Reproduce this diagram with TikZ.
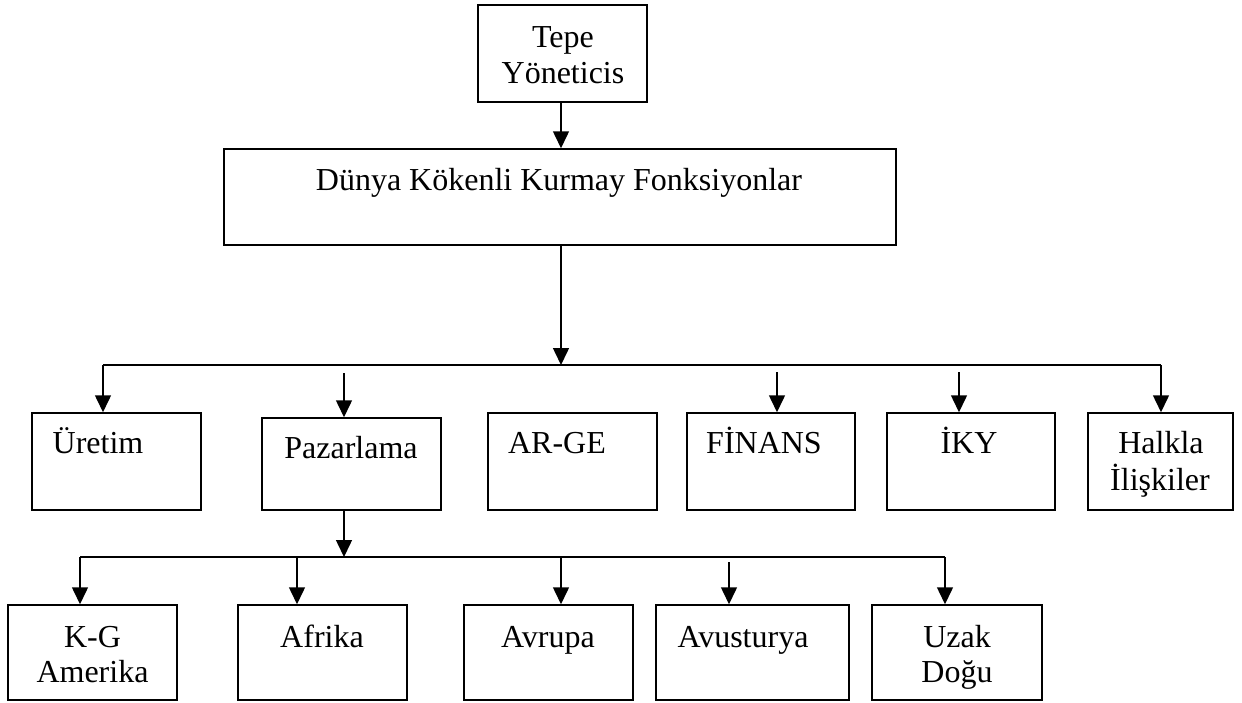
\documentclass[tikz,border=0pt]{standalone}
\usepackage{fontspec}
\setmainfont{Liberation Serif}
\usetikzlibrary{arrows.meta}
\begin{document}
\begin{tikzpicture}[x=1pt,y=-1pt,
  box/.style={draw,line width=1.5pt,rectangle,inner sep=0pt},
  lbl/.style={anchor=base,inner sep=0pt,font=\fontsize{32}{36}\selectfont},
  link/.style={line width=1.5pt},
  arr/.style={line width=1.5pt,-{Triangle[width=16pt,length=17pt]}}]
\useasboundingbox (0,0) rectangle (1242,702);

% boxes
\node[box,minimum width=169pt,minimum height=97pt] (top)  at (562.5,53.5) {};
\node[box,minimum width=672pt,minimum height=96pt] (big)  at (560,197) {};
\node[box,minimum width=169pt,minimum height=97pt] (ure)  at (116.5,461.5) {};
\node[box,minimum width=179pt,minimum height=92pt] (paz)  at (351.5,464) {};
\node[box,minimum width=169pt,minimum height=97pt] (arge) at (572.5,461.5) {};
\node[box,minimum width=168pt,minimum height=97pt] (fin)  at (771,461.5) {};
\node[box,minimum width=168pt,minimum height=97pt] (iky)  at (971,461.5) {};
\node[box,minimum width=145pt,minimum height=97pt] (halk) at (1160.5,461.5) {};
\node[box,minimum width=169pt,minimum height=95pt] (kg)   at (92.5,652.5) {};
\node[box,minimum width=169pt,minimum height=95pt] (afr)  at (322.5,652.5) {};
\node[box,minimum width=169pt,minimum height=95pt] (avr)  at (548.5,652.5) {};
\node[box,minimum width=193pt,minimum height=95pt] (avu)  at (752.5,652.5) {};
\node[box,minimum width=170pt,minimum height=95pt] (uzak) at (957,652.5) {};

% labels
\node[lbl] (t1) at (563,47) {Tepe};
\node[lbl] (t2) at (563,83) {Yöneticis};
\node[lbl] (t3) at (559,190) {Dünya Kökenli Kurmay Fonksiyonlar};
\node[lbl] (t4) at (98,453) {Üretim};
\node[lbl] (t5) at (351,458) {Pazarlama};
\node[lbl] (t6) at (557,453) {AR-GE};
\node[lbl] (t7) at (764,453) {FİNANS};
\node[lbl] (t8) at (969,453) {İKY};
\node[lbl] (t9) at (1161,453) {Halkla};
\node[lbl] (t10) at (1160,490) {İlişkiler};
\node[lbl] (t11) at (92.5,647) {K-G};
\node[lbl] (t12) at (92.5,682) {Amerika};
\node[lbl] (t13) at (322,647) {Afrika};
\node[lbl] (t14) at (548,647) {Avrupa};
\node[lbl] (t15) at (743,647) {Avusturya};
\node[lbl] (t16) at (957,647) {Uzak};
\node[lbl] (t17) at (957,682) {Doğu};

% junction points
\coordinate (c0) at (561,0);
\coordinate (bc) at (561,365);
\coordinate (b1) at (103,365);
\coordinate (b6) at (1161,365);
\coordinate (p0) at (344,373);
\coordinate (f0) at (777,372);
\coordinate (i0) at (959,372);
\coordinate (q1) at (80,557);
\coordinate (q2) at (297,557);
\coordinate (q3) at (561,557);
\coordinate (q4) at (729,562);
\coordinate (q5) at (945,557);

% top level
\draw[arr] (c0 |- top.south) -- (c0 |- big.north);
\draw[arr] (c0 |- big.south) -- (bc);

% first bus
\draw[link] (b1) -- (b6);
\draw[arr] (b1) -- (b1 |- ure.north);
\draw[arr] (p0) -- (p0 |- paz.north);
\draw[arr] (f0) -- (f0 |- fin.north);
\draw[arr] (i0) -- (i0 |- iky.north);
\draw[arr] (b6) -- (b6 |- halk.north);

% second bus
\draw[arr] (p0 |- paz.south) -- (p0 |- q1);
\draw[link] (q1) -- (q5);
\draw[arr] (q1) -- (q1 |- kg.north);
\draw[arr] (q2) -- (q2 |- afr.north);
\draw[arr] (q3) -- (q3 |- avr.north);
\draw[arr] (q4) -- (q4 |- avu.north);
\draw[arr] (q5) -- (q5 |- uzak.north);
\end{tikzpicture}
\end{document}
